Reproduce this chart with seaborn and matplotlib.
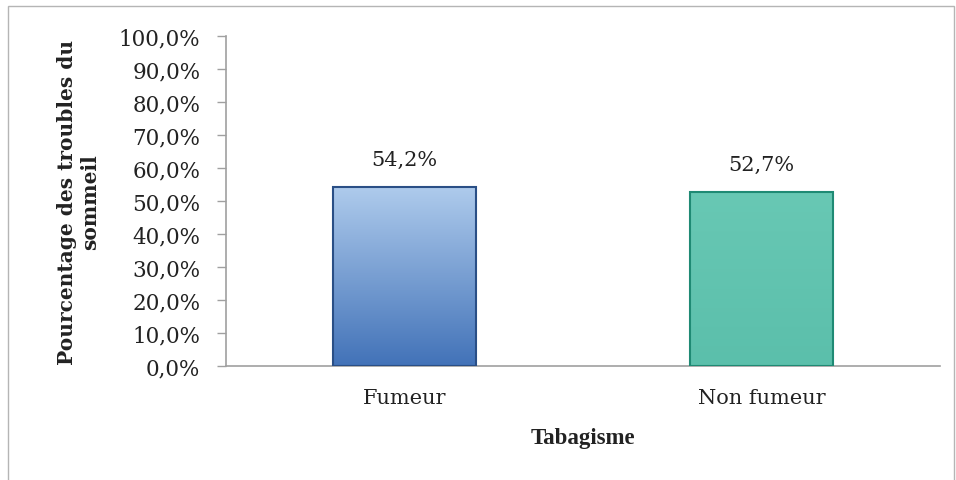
import numpy as np
import pandas as pd
import matplotlib
matplotlib.use("Agg")
import matplotlib.pyplot as plt
import matplotlib.patches as mpatches
from matplotlib.colors import LinearSegmentedColormap
import seaborn as sns

categories = ["Fumeur", "Non fumeur"]
values = [54.2, 52.7]
value_labels = ["54,2%", "52,7%"]
y_ticks = [0, 10, 20, 30, 40, 50, 60, 70, 80, 90, 100]
y_tick_labels = ["0,0%", "10,0%", "20,0%", "30,0%", "40,0%", "50,0%",
                 "60,0%", "70,0%", "80,0%", "90,0%", "100,0%"]
x_title = "Tabagisme"
y_title = "Pourcentage des troubles du\nsommeil"

sns.set_theme(style="white")
plt.rcParams['font.family'] = ['DejaVu Serif']

df = pd.DataFrame({"cat": categories, "val": values})

fig = plt.figure(figsize=(9.56, 4.81), dpi=100)
ax = fig.add_axes([226/956, 1-367/481, (940-226)/956, (367-37)/481])

sns.barplot(data=df, x="cat", y="val", ax=ax, width=0.4,
            palette=["#6d9bd6", "#62c4b0"], hue="cat", legend=False,
            saturation=1)

grads = [("#aecbec", "#4272b8", "#2a4f86"), ("#68c8b4", "#5bbfab", "#1f8a74")]
for patch, (top, bot, edge) in zip(ax.patches, grads):
    x0, y0 = patch.get_x(), patch.get_y()
    w, h = patch.get_width(), patch.get_height()
    cmap = LinearSegmentedColormap.from_list("g", [bot, top])
    grad = np.linspace(0, 1, 256).reshape(-1, 1)
    im = ax.imshow(grad, extent=[x0, x0 + w, y0, y0 + h], origin="lower",
                   cmap=cmap, aspect="auto", zorder=2)
    im.set_clip_path(patch)
    patch.set_edgecolor(edge)
    patch.set_linewidth(1.5)
    patch.set_zorder(3)
    patch.set_facecolor("none")

for i, (v, lab) in enumerate(zip(values, value_labels)):
    ax.annotate(lab, (i, v), xytext=(0, 13), textcoords="offset points",
                ha="center", va="bottom", fontsize=15, color="#222222")

ax.set_xlim(-0.5, 1.5)
ax.set_ylim(0, 100)
ax.set_yticks(y_ticks)
ax.set_yticklabels(y_tick_labels, fontsize=15.5, color="#222222")
ax.set_xticks([0, 1])
ax.set_xticklabels(categories, fontsize=15, color="#222222")
ax.set_xticks([-0.5, 0.5, 1.5], minor=True)
ax.tick_params(axis="x", which="major", length=0, pad=16)
ax.tick_params(axis="x", which="minor", length=6, color="#a0a0a0", width=1)
ax.tick_params(axis="y", which="major", length=6.5, color="#a0a0a0", width=1,
               pad=12, left=True)
ax.set_xlabel(x_title, fontsize=16.5, fontweight="bold", color="#222222",
              labelpad=14, family=["Liberation Serif", "DejaVu Serif"])
ax.set_ylabel(y_title, fontsize=14.5, fontweight="bold", color="#222222",
              labelpad=13, linespacing=1.2)

for s in ["top", "right"]:
    ax.spines[s].set_visible(False)
for s in ["left", "bottom"]:
    ax.spines[s].set_color("#a0a0a0")
    ax.spines[s].set_linewidth(1.2)

frame = mpatches.Rectangle((8/956, -0.01), (954-8)/956, 1-7/481+0.01,
                           transform=fig.transFigure, fill=False,
                           edgecolor="#b5b5b5", linewidth=1)
fig.patches.append(frame)

fig.savefig("out.png", dpi=100)
